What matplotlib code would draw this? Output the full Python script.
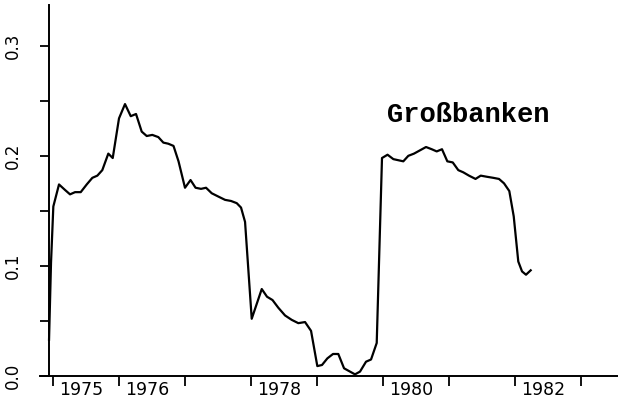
import matplotlib
matplotlib.use("Agg")
import matplotlib.pyplot as plt
import matplotlib.transforms as mtransforms

# Data (time in decimal years, share)
years = [1974.935, 1974.965, 1975.000, 1975.086, 1975.177, 1975.253, 1975.329, 1975.415,
         1975.506, 1975.591, 1975.667, 1975.742, 1975.833, 1975.900, 1975.995, 1976.086,
         1976.173, 1976.253, 1976.339, 1976.415, 1976.500, 1976.591, 1976.667, 1976.742,
         1976.821, 1976.897, 1976.995, 1977.079, 1977.155, 1977.238, 1977.314, 1977.400,
         1977.500, 1977.602, 1977.692, 1977.779, 1977.844, 1977.905, 1978.006, 1978.158,
         1978.238, 1978.321, 1978.409, 1978.511, 1978.612, 1978.712, 1978.814, 1978.905,
         1979.000, 1979.071, 1979.152, 1979.238, 1979.318, 1979.405, 1979.495, 1979.571,
         1979.647, 1979.738, 1979.814, 1979.900, 1979.980, 1980.064, 1980.152, 1980.227,
         1980.303, 1980.379, 1980.465, 1980.556, 1980.647, 1980.733, 1980.809, 1980.889,
         1980.970, 1981.052, 1981.136, 1981.212, 1981.298, 1981.397, 1981.476, 1981.567,
         1981.667, 1981.753, 1981.829, 1981.909, 1981.976, 1982.045, 1982.102, 1982.162,
         1982.233]
values = [0.033, 0.103, 0.154, 0.174, 0.169, 0.165, 0.167, 0.167,
          0.174, 0.180, 0.182, 0.187, 0.202, 0.198, 0.234, 0.247,
          0.236, 0.238, 0.222, 0.218, 0.219, 0.217, 0.212, 0.211,
          0.209, 0.195, 0.171, 0.178, 0.171, 0.170, 0.171, 0.166,
          0.163, 0.160, 0.159, 0.157, 0.153, 0.140, 0.052, 0.079,
          0.072, 0.069, 0.062, 0.055, 0.051, 0.048, 0.049, 0.041,
          0.009, 0.010, 0.016, 0.020, 0.020, 0.007, 0.004, 0.0015,
          0.004, 0.013, 0.015, 0.030, 0.198, 0.201, 0.197, 0.196,
          0.195, 0.200, 0.202, 0.205, 0.208, 0.206, 0.204, 0.206,
          0.195, 0.194, 0.187, 0.185, 0.182, 0.179, 0.182, 0.181,
          0.180, 0.179, 0.175, 0.168, 0.145, 0.104, 0.095, 0.092,
          0.096]

xtick_years = [1975, 1976, 1977, 1978, 1979, 1980, 1981, 1982, 1983]
xtick_labels = ["1975", "1976", "", "1978", "", "1980", "", "1982", ""]
ytick_values = [0.0, 0.05, 0.1, 0.15, 0.2, 0.25, 0.3]
ytick_labels = ["0.0", "", "0.1", "", "0.2", "", "0.3"]
series_label = "Großbanken"

fig = plt.figure(figsize=(6.18, 4.0), dpi=100)
ax = fig.add_axes([40 / 618, 0.06, 1 - 40 / 618, 0.9875 - 0.06])

ax.plot(years, values, color="black", lw=1.6, solid_joinstyle="round")

ax.set_xlim(1974.798, 1983.556)
ax.set_ylim(0.0, 0.337)

for s in ["top", "right"]:
    ax.spines[s].set_visible(False)
ax.spines["left"].set_position(("data", 1974.935))
ax.spines["left"].set_linewidth(1.4)
ax.spines["bottom"].set_linewidth(1.4)

ax.set_xticks(xtick_years)
ax.set_xticklabels(xtick_labels, fontsize=12.5, family="DejaVu Sans")
ax.tick_params(axis="x", direction="out", length=7, width=1.3, pad=-3.5)
offset = mtransforms.ScaledTranslation(0.277, 0, fig.dpi_scale_trans)
for lbl in ax.get_xticklabels():
    lbl.set_transform(lbl.get_transform() + offset)

ax.set_yticks(ytick_values)
ax.set_yticklabels(ytick_labels, fontsize=12, family="DejaVu Sans",
                   rotation=90, va="center")
ax.tick_params(axis="y", direction="out", length=6.5, width=1.3, pad=13)

ax.text(1980.056, 0.231, series_label, fontsize=19.5, family="Liberation Mono",
        fontweight="bold", ha="left", va="baseline")

fig.savefig("out.png", dpi=100)
